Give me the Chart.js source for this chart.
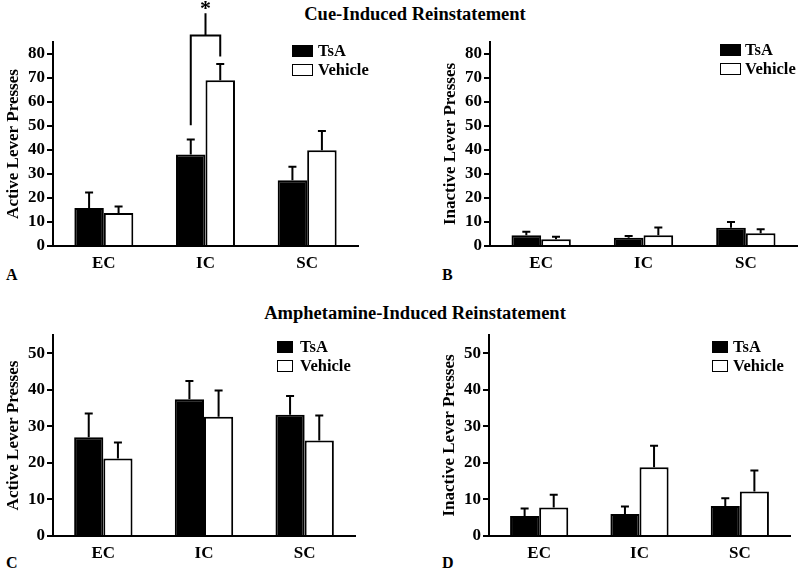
<!DOCTYPE html>
<html>
<head>
<meta charset="utf-8">
<script src="https://cdn.jsdelivr.net/npm/chart.js@4"></script>
<style>
  body { margin: 0; width: 800px; height: 571px; position: relative; background: #fff; overflow: hidden;
         font-family: 'Liberation Serif', 'Times New Roman', serif; font-weight: bold; color: #000; }
  canvas { position: absolute; }
  .title { position: absolute; font-size: 18.5px; line-height: 20px; white-space: nowrap; transform: translateX(-50%); }
  .letter { position: absolute; font-size: 16px; line-height: 18px; }
  .leg { position: absolute; font-size: 16.5px; line-height: 18px; white-space: nowrap; }
  .leg span.box { position: absolute; border: 1.5px solid #000; box-sizing: border-box; }
</style>
</head>
<body>
<div class="title" style="left:415px; top:4px">Cue-Induced Reinstatement</div>
<div class="title" style="left:415px; top:303px">Amphetamine-Induced Reinstatement</div>
<div class="letter" style="left:6px; top:266px">A</div>
<div class="letter" style="left:442px; top:266px">B</div>
<div class="letter" style="left:6px; top:554px">C</div>
<div class="letter" style="left:442px; top:554px">D</div>

<canvas id="chartA" width="400" height="290" style="left:0; top:0"></canvas>
<canvas id="chartB" width="400" height="290" style="left:400px; top:0"></canvas>
<canvas id="chartC" width="400" height="281" style="left:0; top:290px"></canvas>
<canvas id="chartD" width="400" height="281" style="left:400px; top:290px"></canvas>

<script>
const categories = ['EC', 'IC', 'SC'];
const seriesNames = ['TsA', 'Vehicle'];
const seriesFills = ['#000', '#fff'];

// tick values for the two y ranges
const cueTicks = [0, 10, 20, 30, 40, 50, 60, 70, 80];
const ampTicks = [0, 10, 20, 30, 40, 50];

// A: cue-induced, active lever (mean, SEM)
const cueActiveTsa = [15.8, 38.1, 27.4];
const cueActiveTsaSem = [6.5, 6.3, 5.6];
const cueActiveVeh = [13.7, 69.1, 39.9];
const cueActiveVehSem = [2.8, 6.7, 8.0];

// B: cue-induced, inactive lever
const cueInactiveTsa = [4.5, 3.4, 7.6];
const cueInactiveTsaSem = [1.4, 0.8, 2.4];
const cueInactiveVeh = [2.8, 4.5, 5.3];
const cueInactiveVehSem = [1.1, 3.2, 1.7];

// C: amphetamine-induced, active lever
const ampActiveTsa = [27.0, 37.4, 33.2];
const ampActiveTsaSem = [6.5, 5.0, 5.1];
const ampActiveVeh = [21.2, 32.6, 26.1];
const ampActiveVehSem = [4.4, 7.2, 6.9];

// D: amphetamine-induced, inactive lever
const ampInactiveTsa = [5.5, 6.0, 8.2];
const ampInactiveTsaSem = [2.0, 2.1, 2.1];
const ampInactiveVeh = [7.8, 18.8, 12.2];
const ampInactiveVehSem = [3.5, 5.9, 5.7];

// significance bracket in panel A (IC): leg ends, top, star
const sigLegs = [50.3, 79];
const sigTop = 87.7;
const sigStar = 97;

Chart.defaults.font.family = "'Liberation Serif', 'Times New Roman', serif";
Chart.defaults.font.weight = 'bold';
Chart.defaults.font.size = 16;
Chart.defaults.color = '#000';

//draws the upward error bars with a small cap
const errorBars = {
    id: 'errorBars',
    afterDatasetsDraw(chart) {
        const ctx = chart.ctx;
        const y = chart.scales.y;
        ctx.save();
        ctx.strokeStyle = '#000';
        ctx.lineWidth = 2;
        chart.data.datasets.forEach((ds, i) => {
            chart.getDatasetMeta(i).data.forEach((bar, j) => {
                const top = y.getPixelForValue(ds.data[j] + ds.errors[j]);
                ctx.beginPath();
                ctx.moveTo(bar.x, bar.y);
                ctx.lineTo(bar.x, top);
                ctx.moveTo(bar.x - 4, top);
                ctx.lineTo(bar.x + 4, top);
                ctx.stroke();
            });
        });
        ctx.restore();
    }
};

//bracket + star over the IC pair (panel A only)
const sigBracket = {
    id: 'sigBracket',
    afterDraw(chart) {
        if (!chart.options.plugins.sigBracket) return;
        const ctx = chart.ctx;
        const y = chart.scales.y;
        const x1 = chart.getDatasetMeta(0).data[1].x;
        const x2 = chart.getDatasetMeta(1).data[1].x;
        const xm = (x1 + x2) / 2;
        const yTop = y.getPixelForValue(sigTop);
        ctx.save();
        ctx.strokeStyle = '#000';
        ctx.lineWidth = 2;
        ctx.beginPath();
        ctx.moveTo(x1, y.getPixelForValue(sigLegs[0]));
        ctx.lineTo(x1, yTop);
        ctx.lineTo(x2, yTop);
        ctx.lineTo(x2, y.getPixelForValue(sigLegs[1]));
        ctx.moveTo(xm, yTop);
        ctx.lineTo(xm, y.getPixelForValue(sigStar));
        ctx.stroke();
        ctx.fillStyle = '#000';
        ctx.font = "bold 22px 'Liberation Serif', serif";
        ctx.textAlign = 'center';
        ctx.textBaseline = 'alphabetic';
        ctx.fillText('*', xm, y.getPixelForValue(sigStar) + 2);
        ctx.restore();
    }
};

function makePanel(id, yTitle, yMax, yTicks, tsa, tsaSem, veh, vehSem, pad, xHeight, bracket) {
    const ctx = document.getElementById(id).getContext('2d');
    return new Chart(ctx, {
        type: 'bar',
        data: {
            labels: categories,
            datasets: [tsa, veh].map((vals, i) => ({
                label: seriesNames[i],
                data: vals,
                errors: [tsaSem, vehSem][i],
                backgroundColor: seriesFills[i],
                borderColor: '#000',
                borderWidth: 2,
                borderSkipped: 'bottom',
                categoryPercentage: 0.58,
                barPercentage: 1.0
            }))
        },
        options: {
            responsive: false,
            animation: false,
            devicePixelRatio: 1,
            layout: { padding: pad },
            plugins: {
                legend: { display: false },
                tooltip: { enabled: false },
                sigBracket: bracket
            },
            scales: {
                x: {
                    grid: { display: false, drawTicks: false },
                    border: { display: true, color: '#000', width: 2, z: 1 },
                    ticks: { padding: 7, font: { size: 17 } },
                    afterFit: s => { s.height = xHeight; }
                },
                y: {
                    min: 0,
                    max: yMax,
                    grid: { drawOnChartArea: false, drawTicks: true, tickLength: 6, color: '#000', lineWidth: 2 },
                    border: { display: true, color: '#000', width: 2 },
                    ticks: { padding: 2, font: { size: 17 } },
                    afterBuildTicks: s => { s.ticks = yTicks.map(v => ({ value: v })); },
                    title: { display: true, text: yTitle, font: { size: 17 }, padding: { top: 3, bottom: 2 } },
                    afterFit: s => { s.width = 53; }
                }
            }
        },
        plugins: [errorBars, sigBracket]
    });
}

//legend boxes built from the series names
function addLegend(left, top, boxW, textLeft, rowGap) {
    seriesNames.forEach((name, i) => {
        const div = document.createElement('div');
        div.className = 'leg';
        div.style.left = left + 'px';
        div.style.top = (top + i * rowGap) + 'px';
        div.innerHTML = '<span class="box" style="left:0; top:3px; width:' + boxW + 'px; height:12px; background:' +
            seriesFills[i] + '"></span><span style="position:absolute; left:' + textLeft + 'px; top:0">' + name + '</span>';
        document.body.appendChild(div);
    });
}

makePanel('chartA', 'Active Lever Presses', 85, cueTicks, cueActiveTsa, cueActiveTsaSem, cueActiveVeh, cueActiveVehSem,
    { top: 42, right: 42, left: 0, bottom: 0 }, 44, true);
makePanel('chartB', 'Inactive Lever Presses', 85, cueTicks, cueInactiveTsa, cueInactiveTsaSem, cueInactiveVeh, cueInactiveVehSem,
    { top: 42, right: 3, left: 37, bottom: 0 }, 44, false);
makePanel('chartC', 'Active Lever Presses', 55, ampTicks, ampActiveTsa, ampActiveTsaSem, ampActiveVeh, ampActiveVehSem,
    { top: 45, right: 45, left: 0, bottom: 0 }, 35, false);
makePanel('chartD', 'Inactive Lever Presses', 55, ampTicks, ampInactiveTsa, ampInactiveTsaSem, ampInactiveVeh, ampInactiveVehSem,
    { top: 45, right: 10, left: 36, bottom: 0 }, 35, false);

addLegend(292, 42, 21, 26, 19);
addLegend(720, 41, 21, 25, 19);
addLegend(277, 338, 16, 23, 19);
addLegend(712, 338, 16, 21, 19);
</script>
</body>
</html>
